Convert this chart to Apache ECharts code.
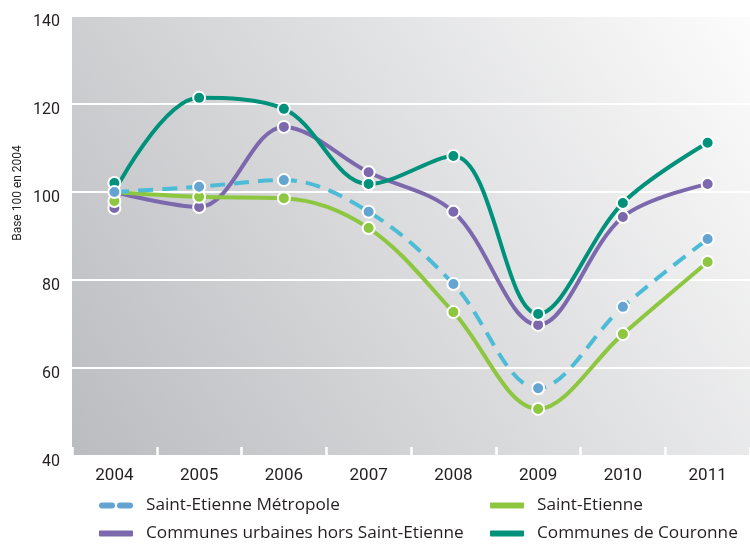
<!DOCTYPE html>
<html>
<head>
<meta charset="utf-8">
<script src="https://cdn.jsdelivr.net/npm/echarts@6/dist/echarts.min.js"></script>
<style>
  html, body { margin: 0; padding: 0; background: #fff; }
  #chart { width: 750px; height: 545px; }
</style>
</head>
<body>
<div id="chart"></div>
<script>
const years = ['2004', '2005', '2006', '2007', '2008', '2009', '2010', '2011'];
const metropole = [100, 101.2, 102.7, 95.5, 79.1, 55.4, 73.9, 89.3];
const saintEtienne = [100, 98.9, 98.6, 91.8, 72.7, 50.7, 67.7, 84.1];
const communesUrbaines = [100, 96.6, 114.8, 104.5, 95.5, 69.8, 94.3, 101.8];
const couronne = [100, 121.4, 118.9, 101.8, 108.2, 72.3, 97.5, 111.2];
const yTicks = [40, 60, 80, 100, 120, 140];

const labelFont = "Roboto, sans-serif";
const legendFont = "'Open Sans', 'Noto Sans', sans-serif";

// pastilles de 2004 décalées pour rester lisibles
function withFirstOffset(values, dy) {
    return values.map((v, i) => i === 0 ? { value: v, symbolOffset: [0, dy] } : v);
}

function makeSeries(name, values, lineColor, dotColor, dy, dashed) {
    return {
        name: name,
        type: 'line',
        smooth: 0.35,
        data: withFirstOffset(values, dy),
        symbol: 'circle',
        symbolSize: 12,
        itemStyle: { color: dotColor, borderColor: '#fff', borderWidth: 2 },
        lineStyle: {
            color: lineColor,
            width: 4,
            type: dashed ? [15, 9] : 'solid'
        },
        emphasis: { disabled: true },
        animation: false
    };
}

const chart = echarts.init(document.getElementById('chart'));

const dashIcon = 'path://M4,0 H14 A4,4 0 0 1 14,8 H4 A4,4 0 0 1 4,0 Z M22,0 H32 A4,4 0 0 1 32,8 H22 A4,4 0 0 1 22,0 Z';

function legendItem(name, icon, color, left, top) {
    return {
        left: left, top: top, padding: 0,
        itemWidth: 36, itemHeight: 8,
        textStyle: { fontFamily: legendFont, fontSize: 17.2, color: '#231f20', padding: [0, 0, 0, 7] },
        data: [{ name: name, icon: icon, itemStyle: { color: color } }]
    };
}

const option = {
    animation: false,
    grid: {
        left: 72,
        top: 16,
        width: 691,
        height: 440,
        show: true,
        borderWidth: 0,
        backgroundColor: new echarts.graphic.LinearGradient(0, 1, 1, 0, [
            { offset: 0, color: '#bbbcc0' },
            { offset: 1, color: '#fcfcfc' }
        ])
    },
    xAxis: {
        type: 'category',
        data: years,
        boundaryGap: true,
        axisLine: { show: false },
        axisTick: { show: true, inside: true, length: 9, lineStyle: { color: '#fff', width: 2.5 } },
        axisLabel: { margin: 11, fontFamily: labelFont, fontSize: 17, color: '#231f20' }
    },
    yAxis: {
        type: 'value',
        min: yTicks[0],
        max: yTicks[yTicks.length - 1],
        interval: 20,
        axisLine: { show: false },
        axisTick: { show: false },
        axisLabel: { margin: 12, fontFamily: labelFont, fontSize: 16, color: '#231f20',
            verticalAlign: 'top', lineHeight: 12 },
        splitLine: { show: true, lineStyle: { color: '#fff', width: 2 } }
    },
    legend: [
        legendItem('Saint-Etienne Métropole', dashIcon, '#65a3d1', 97, 497),
        legendItem('Communes urbaines hors Saint-Etienne', 'roundRect', '#7c68ad', 97, 525),
        legendItem('Saint-Etienne', 'roundRect', '#8dc63f', 488, 497),
        legendItem('Communes de Couronne', 'roundRect', '#00917b', 488, 525)
    ],
    graphic: [{
        type: 'text',
        x: 18,
        y: 193,
        rotation: Math.PI / 2,
        style: {
            text: 'Base 100 en 2004',
            fontFamily: labelFont,
            fontSize: 12,
            fill: '#231f20',
            align: 'center',
            verticalAlign: 'middle'
        }
    }],
    series: [
        makeSeries('Communes urbaines hors Saint-Etienne', communesUrbaines, '#7c68ad', '#7c68ad', 16, false),
        makeSeries('Saint-Etienne', saintEtienne, '#8dc63f', '#8dc63f', 9, false),
        makeSeries('Communes de Couronne', couronne, '#00917b', '#00917b', -9, false),
        makeSeries('Saint-Etienne Métropole', metropole, '#4cbcd6', '#65a3d1', 0, true)
    ]
};

chart.setOption(option);
</script>
</body>
</html>
